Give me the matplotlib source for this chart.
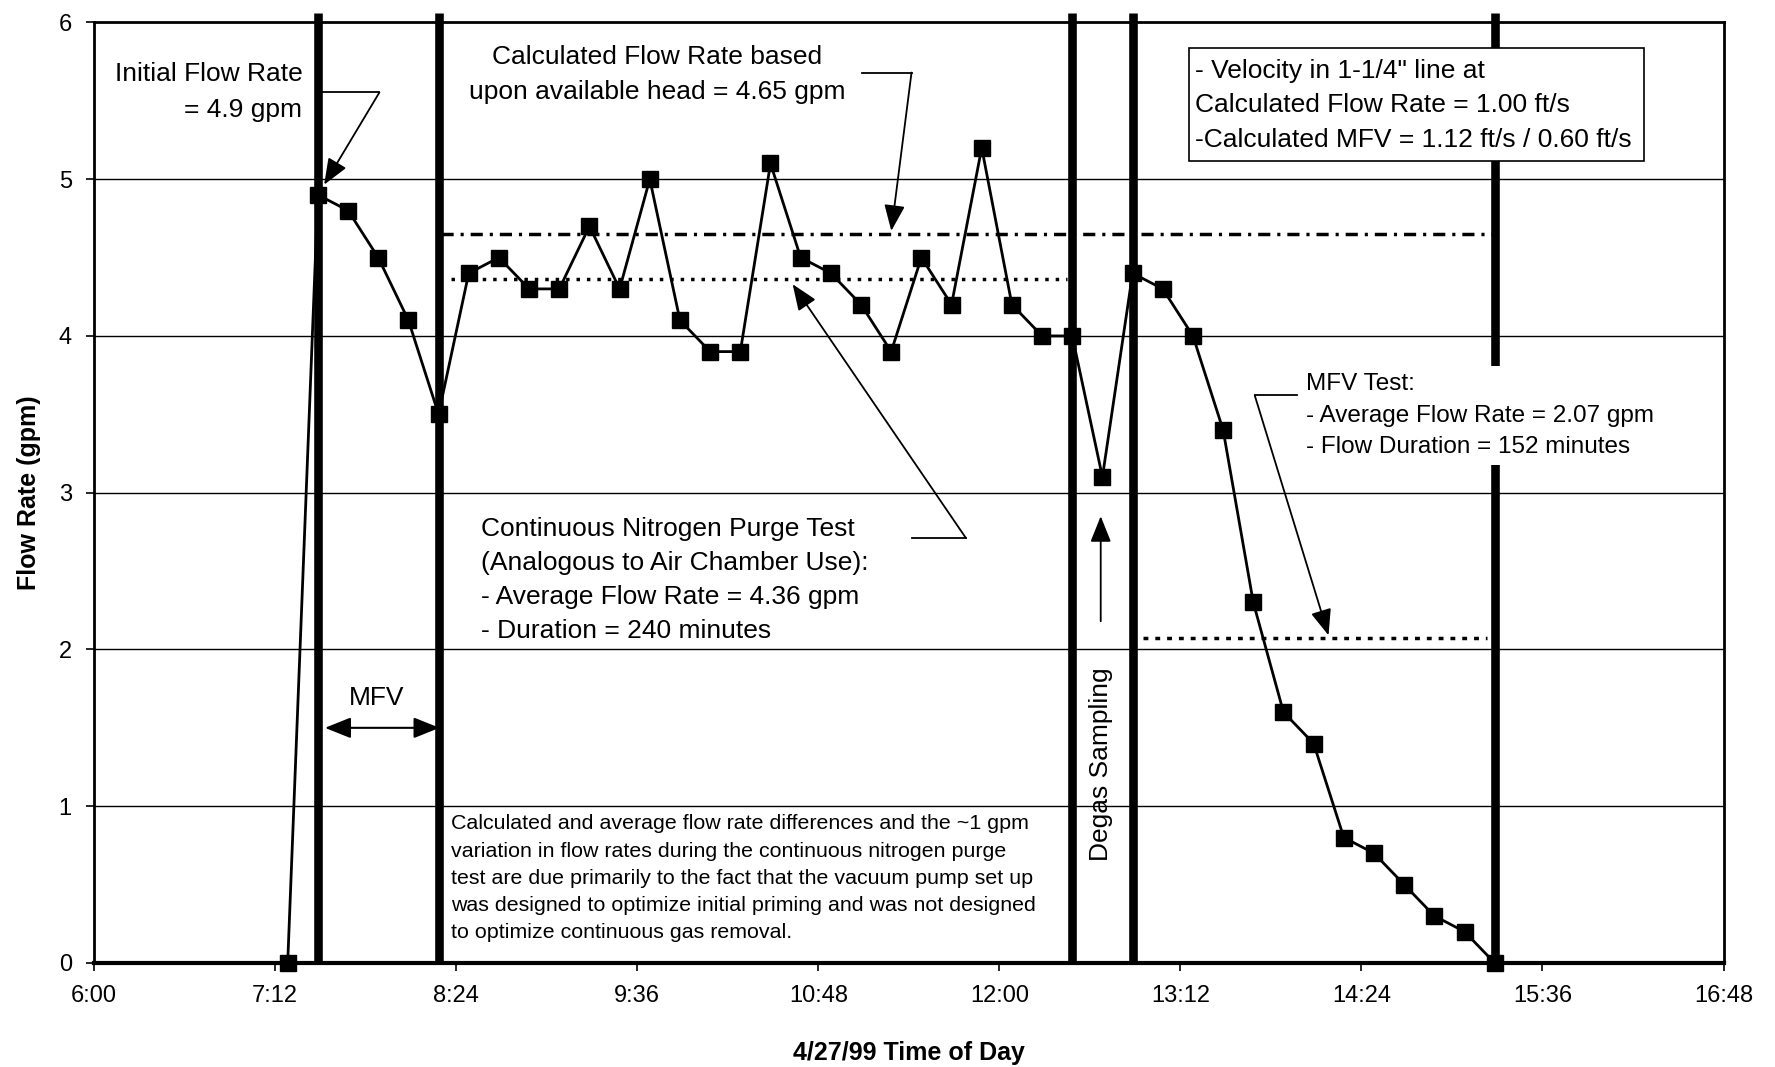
import matplotlib.pyplot as plt
from matplotlib import font_manager
from matplotlib.patches import Rectangle

# narrow sans if the machine has it, plain Liberation Sans otherwise
installed = {f.name for f in font_manager.fontManager.ttflist}
NARROW = "Liberation Sans Narrow" in installed
plt.rcParams.update({
    "font.family": "Liberation Sans Narrow" if NARROW else "Liberation Sans",
    "font.size": 17,
})


def fs(size):
    # size given for regular width text
    return size / 0.82 if NARROW else size


def lsp(gap_px, size):
    # linespacing that gives a baseline gap of gap_px at this font size
    return gap_px / (0.86 * fs(size) * 100 / 72)


def hours(t):
    h, m = t.split(":")
    return int(h) + int(m) / 60.0


# flow readings taken on 4/27/99
times = ["7:17", "7:29", "7:41", "7:53", "8:05", "8:17", "8:29", "8:41", "8:53", "9:05",
         "9:17", "9:29", "9:41", "9:53", "10:05", "10:17", "10:29", "10:41", "10:53", "11:05",
         "11:17", "11:29", "11:41", "11:53", "12:05", "12:17", "12:29", "12:41", "12:53", "13:05",
         "13:17", "13:29", "13:41", "13:53", "14:05", "14:17", "14:29", "14:41", "14:53", "15:05",
         "15:17"]
flow = [0.0, 4.9, 4.8, 4.5, 4.1, 3.5, 4.4, 4.5, 4.3, 4.3,
        4.7, 4.3, 5.0, 4.1, 3.9, 3.9, 5.1, 4.5, 4.4, 4.2,
        3.9, 4.5, 4.2, 5.2, 4.2, 4.0, 4.0, 3.1, 4.4, 4.3,
        4.0, 3.4, 2.3, 1.6, 1.4, 0.8, 0.7, 0.5, 0.3, 0.2,
        0.0]

# test phase boundaries
event_times = ["7:29", "8:17", "12:29", "12:53", "15:17"]

# reference flow rates (gpm) and the span they cover
calc_rate = 4.65
calc_span = ["8:18", "15:17"]
purge_avg = 4.36
purge_span = ["8:22", "12:27"]
mfv_avg = 2.07
mfv_span = ["12:57", "15:14"]

xtick_labels = ["6:00", "7:12", "8:24", "9:36", "10:48", "12:00", "13:12", "14:24", "15:36", "16:48"]
ytick_values = [0, 1, 2, 3, 4, 5, 6]

x = [hours(t) for t in times]

fig = plt.figure(figsize=(17.75, 10.67), dpi=100)
ax = fig.add_axes([0.053, 0.0975, 0.918, 0.8815])

for yv in ytick_values[1:-1]:
    ax.axhline(yv, color="black", lw=1.0, zorder=1)

for t in event_times:
    ax.plot([hours(t), hours(t)], [0, 6.06], color="black", lw=6.2,
            solid_capstyle="butt", clip_on=False, zorder=2)

ax.plot([hours(t) for t in calc_span], [calc_rate, calc_rate], color="black", lw=2.5,
        linestyle=(0, (3.5, 2, 0.9, 2)), zorder=3)
ax.plot([hours(t) for t in purge_span], [purge_avg, purge_avg], color="black", lw=2.5,
        linestyle=(0, (1, 2)), zorder=3)
ax.plot([hours(t) for t in mfv_span], [mfv_avg, mfv_avg], color="black", lw=2.5,
        linestyle=(0, (1.4, 2)), zorder=3)

ax.plot(x, flow, color="black", lw=2, marker="s", markersize=11.5, zorder=4, clip_on=False)

ax.set_xlim(6.0, 16.8)
ax.set_ylim(0, 6)
ax.set_xticks([hours(t) for t in xtick_labels])
ax.set_xticklabels(xtick_labels)
ax.set_yticks(ytick_values)
ax.tick_params(axis="both", direction="out", length=6, width=1.2, labelsize=fs(17))
ax.tick_params(axis="x", pad=10)
ax.tick_params(axis="y", pad=10)
for side in ["left", "top", "right"]:
    ax.spines[side].set_linewidth(2)
ax.spines["bottom"].set_linewidth(3)

ax.set_xlabel("4/27/99 Time of Day", fontsize=fs(18), fontweight="bold", labelpad=24)
ax.set_ylabel("Flow Rate (gpm)", fontsize=fs(18), fontweight="bold", labelpad=13)

arrow = dict(arrowstyle="-|>,head_length=0.8,head_width=0.32", color="black", lw=1.3,
             mutation_scale=20, shrinkA=0, shrinkB=0)


def elbow(x0, x1, y0, tip, corner_left=False):
    # horizontal leader, then a slanted arrow from one end of it
    ax.plot([x0, x1], [y0, y0], color="black", lw=1.3, zorder=6)
    cx = x0 if corner_left else x1
    ax.annotate("", xy=tip, xytext=(cx, y0), arrowprops=arrow, zorder=6)


ax.text(7.381, 5.556, "Initial Flow Rate\n= 4.9 gpm", ha="right", va="center",
        multialignment="right", fontsize=fs(19), linespacing=lsp(37.4, 19))
elbow(7.501, 7.891, 5.553, (7.525, 4.965))

ax.text(9.730, 5.669, "Calculated Flow Rate based\nupon available head = 4.65 gpm",
        ha="center", va="center", fontsize=fs(19), linespacing=lsp(36.2, 19))
elbow(11.092, 11.418, 5.68, (11.284, 4.67))

ax.text(8.567, 2.444, "Continuous Nitrogen Purge Test\n(Analogous to Air Chamber Use):\n"
        "- Average Flow Rate = 4.36 gpm\n- Duration = 240 minutes",
        ha="left", va="center", fontsize=fs(19), linespacing=lsp(34.7, 19))
elbow(11.418, 11.779, 2.71, (10.63, 4.33))

ax.text(8.364, 0.539, "Calculated and average flow rate differences and the ~1 gpm\n"
        "variation in flow rates during the continuous nitrogen purge\n"
        "test are due primarily to the fact that the vacuum pump set up\n"
        "was designed to optimize initial priming and was not designed\n"
        "to optimize continuous gas removal.",
        ha="left", va="center", fontsize=fs(15.4), linespacing=lsp(28.5, 15.4))

ax.text(12.672, 1.265, "Degas Sampling", rotation=90, ha="center", va="center", fontsize=fs(19))
ax.annotate("", xy=(12.672, 2.85), xytext=(12.672, 2.18), arrowprops=arrow)

ax.text(14.03, 3.49, "MFV Test:\n- Average Flow Rate = 2.07 gpm\n- Flow Duration = 152 minutes",
        ha="left", va="center", fontsize=fs(17.5), linespacing=lsp(32.5, 17.5), zorder=5,
        bbox=dict(facecolor="white", edgecolor="none", pad=5))
elbow(13.693, 13.97, 3.62, (14.182, 2.09), corner_left=True)

ax.add_patch(Rectangle((13.257, 5.119), 16.274 - 13.257, 5.835 - 5.119,
                       facecolor="white", edgecolor="black", lw=1.2, zorder=5))
ax.text(13.295, 5.47, "- Velocity in 1-1/4\" line at\nCalculated Flow Rate = 1.00 ft/s\n"
        "-Calculated MFV = 1.12 ft/s / 0.60 ft/s",
        ha="left", va="center", fontsize=fs(19), linespacing=lsp(35.7, 19), zorder=6)

ax.text(7.876, 1.692, "MFV", ha="center", va="center", fontsize=fs(19))
ax.annotate("", xy=(7.53, 1.50), xytext=(8.29, 1.50),
            arrowprops=dict(arrowstyle="<|-|>,head_length=0.8,head_width=0.32", color="black",
                            lw=1.5, mutation_scale=20, shrinkA=0, shrinkB=0))

fig.savefig("out.png", dpi=100)
